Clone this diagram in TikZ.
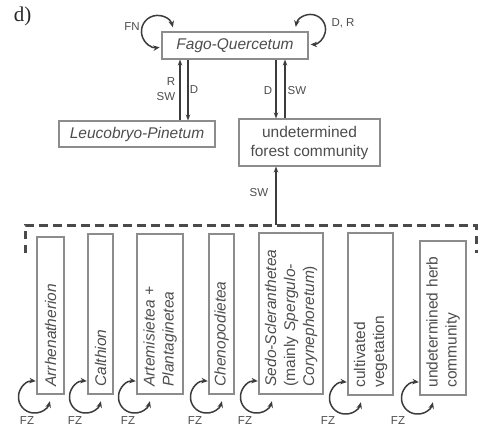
\documentclass[tikz,border=0pt]{standalone}
\usepackage{fontspec}
\setmainfont{Liberation Sans}
\newfontfamily\tagfont{Liberation Serif}
\usetikzlibrary{arrows.meta,calc}

\definecolor{boxgray}{HTML}{8C8C8C}
\definecolor{txtgray}{HTML}{4D4D4D}
\definecolor{arrgray}{HTML}{3C3C3C}
\definecolor{dashgray}{HTML}{4A4A4A}

\begin{document}
\begin{tikzpicture}[x=1pt,y=1pt,
  box/.style={draw=boxgray, line width=1.1pt, text=txtgray,
    font=\fontsize{15.5}{19}\selectfont, inner sep=0pt},
  vbox/.style={box, rotate=90, align=left, inner xsep=7.5pt, inner ysep=0pt},
  lbl/.style={text=txtgray, font=\fontsize{11.5}{13}\selectfont, inner sep=0pt},
  arr/.style={draw=arrgray, line width=1.2pt, -{Stealth[length=6pt,width=4.5pt]}},
  loopy/.style={draw=arrgray, line width=1.5pt,
    {Stealth[length=6.5pt,width=5.5pt]}-{Stealth[length=6.5pt,width=5.5pt]}},
  bracket/.style={draw=dashgray, line width=3pt, dash pattern=on 8.5pt off 5.5pt}
]
\useasboundingbox (0,0) rectangle (478,432);

% panel tag
\node[font=\tagfont\fontsize{21}{24}\selectfont, text=black!85, inner sep=0pt] (tag) at (22.5,415.5) {d)};

% forest communities
\node[box, minimum width=146pt, minimum height=27pt] (fago) at (235,386.5) {\itshape Fago-Quercetum};
\node[box, minimum width=156pt, minimum height=26pt] (leuco) at (137,298) {\itshape Leucobryo-Pinetum};
\node[box, minimum width=141pt, minimum height=47pt, align=center] (forest) at (309.5,289.5)
  {undetermined\\forest community};

% transitions between forest communities
\draw[arr] ([xshift=43pt]leuco.north) -- ([xshift=-55pt]fago.south);
\draw[arr] ([xshift=-47pt]fago.south) -- ([xshift=51pt]leuco.north);
\draw[arr] ([xshift=41pt]fago.south) -- ([xshift=-33.5pt]forest.north);
\draw[arr] ([xshift=-24.5pt]forest.north) -- ([xshift=50pt]fago.south);

\node[lbl] (lR) at (171,350) {R};
\node[lbl] (lSW1) at (166,335) {SW};
\node[lbl] (lD1) at (194,342) {D};
\node[lbl] (lD2) at (268,341) {D};
\node[lbl] (lSW2) at (297,341) {SW};

% self transitions of the beech-oak forest
\draw[loopy] ($(fago.north west)+(-4,0)+(15:16)$) arc[start angle=15, end angle=278, radius=16pt];
\draw[loopy] ($(fago.north east)+(2,2)+(170:15)$) arc[start angle=170, end angle=-90, radius=15pt];
\node[lbl] (lFN) at (132,405) {FN};
\node[lbl] (lDR) at (343,409) {D, R};

% herb communities grouped by the dashed bracket
\coordinate (brk) at (276,207);
\draw[bracket] (25,179) -- (25,207) -- (476.5,207) -- (476.5,179);
\draw[arr] (brk) -- ([xshift=-33.5pt]forest.south);
\node[lbl] (lSW3) at (259,239) {SW};

\node[vbox, minimum width=157pt, minimum height=27pt, text width=142pt] (b1) at (50.5,116.5)
  {\itshape Arrhenatherion};
\node[vbox, minimum width=160pt, minimum height=25pt, text width=145pt] (b2) at (100.5,118)
  {\itshape Calthion};
\node[vbox, minimum width=160pt, minimum height=46pt, text width=145pt] (b3) at (160,118)
  {\itshape Artemisietea +\\Plantaginetea};
\node[vbox, minimum width=160pt, minimum height=25pt, text width=145pt] (b4) at (221.5,118)
  {\itshape Chenopodietea};
\node[vbox, minimum width=161pt, minimum height=64pt, text width=146pt] (b5) at (291,118.5)
  {\textit{Sedo-Scleranthetea}\\(mainly \textit{Spergulo-}\\\textit{Corynephoretum})};
\node[vbox, minimum width=162pt, minimum height=45pt, text width=147pt] (b6) at (370.5,118)
  {cultivated\\vegetation};
\node[vbox, minimum width=154pt, minimum height=46pt, text width=139pt] (b7) at (443,114)
  {undetermined herb\\community};

% self transitions of the herb communities (rotated boxes: north west is the lower left corner)
\foreach \b/\fx in {b1/27, b2/75, b3/128, b4/195, b5/245, b6/328, b7/398}{
  \draw[loopy] ($(\b.north west)+(-2,-2.5)+(85:16)$) arc[start angle=85, end angle=345, radius=16pt];
  \node[lbl] (fz-\b) at (\fx,11) {FZ};
}
\end{tikzpicture}
\end{document}
